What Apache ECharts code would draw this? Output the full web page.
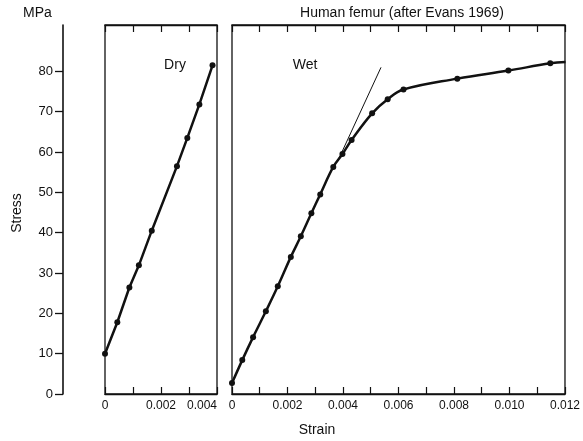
<!DOCTYPE html>
<html>
<head>
<meta charset="utf-8">
<script src="https://cdn.jsdelivr.net/npm/echarts@6/dist/echarts.min.js"></script>
<style>
html,body{margin:0;padding:0;background:#fff;}
#chart{width:583px;height:441px;}
</style>
</head>
<body>
<div id="chart"></div>
<script>
// Data (strain, stress in MPa)
var dryStrain = [0, 0.00044, 0.00087, 0.00121, 0.00167, 0.00257, 0.00294, 0.00337, 0.00384];
var dryStress = [10, 17.8, 26.4, 31.9, 40.5, 56.5, 63.5, 71.8, 81.5];

var wetStrain = [0, 0.00037, 0.00076, 0.00122, 0.00165, 0.00212, 0.00248, 0.00286, 0.00318, 0.00365, 0.00398, 0.00431, 0.00505, 0.00561, 0.00618, 0.00812, 0.00996, 0.01147, 0.01202];
var wetStress = [2.7, 8.4, 14.1, 20.5, 26.7, 34.0, 39.1, 44.8, 49.5, 56.3, 59.5, 63.0, 69.6, 73.1, 75.5, 78.2, 80.2, 82.0, 82.3];

var tangentStrain = [0.0038, 0.00537];
var tangentStress = [57.6, 81.0];

var stressTicks = [0, 10, 20, 30, 40, 50, 60, 70, 80];

function pairs(xs, ys) { return xs.map(function (x, i) { return [x, ys[i]]; }); }

var FONT = '"Liberation Sans", Arial, Helvetica, sans-serif';
var INK = '#111';
var YMAX = 91.5;

function xLabel(v) {
  var k = Math.round(v * 1000);
  if (k % 2 !== 0) return '';
  return k === 0 ? '0' : v.toFixed(3);
}

function bottomX(gi, max, alignMax) {
  return {
    type: 'value', gridIndex: gi, min: 0, max: max, interval: 0.001, position: 'bottom',
    axisLine: { show: true, onZero: false, lineStyle: { color: INK, width: 1.3 } },
    axisTick: { show: true, inside: true, length: 7, lineStyle: { color: INK, width: 1.2 } },
    axisLabel: { show: true, formatter: xLabel, color: INK, fontFamily: FONT, fontSize: 12, margin: 6,
                 hideOverlap: false, showMaxLabel: true, showMinLabel: true, alignMaxLabel: alignMax },
    splitLine: { show: false }
  };
}
function topX(gi, max) {
  return {
    type: 'value', gridIndex: gi, min: 0, max: max, interval: 0.001, position: 'top',
    axisLine: { show: true, onZero: false, lineStyle: { color: INK, width: 1.3 } },
    axisTick: { show: true, inside: true, length: 7, lineStyle: { color: INK, width: 1.2 } },
    axisLabel: { show: false }, splitLine: { show: false }
  };
}

var chart = echarts.init(document.getElementById('chart'), null, { renderer: 'canvas' });
chart.setOption({
  animation: false,
  backgroundColor: '#fff',
  grid: [
    { left: 105, width: 112, top: 25, bottom: 47, show: true, borderColor: INK, borderWidth: 1.3, containLabel: false },
    { left: 232, width: 338, top: 25, bottom: 47, show: true, borderColor: INK, borderWidth: 1.3, containLabel: false }
  ],
  xAxis: [
    bottomX(0, 0.004, 'right'), topX(0, 0.004),
    bottomX(1, 0.012, 'center'), topX(1, 0.012)
  ],
  yAxis: [
    { type: 'value', gridIndex: 0, min: 0, max: YMAX, position: 'left', offset: 42,
      axisLine: { show: true, onZero: false, lineStyle: { color: INK, width: 1.6 } },
      axisTick: { show: true, inside: false, length: 8, customValues: stressTicks, lineStyle: { color: INK, width: 1.3 } },
      axisLabel: { show: true, customValues: stressTicks, color: INK, fontFamily: FONT, fontSize: 13, margin: 10 },
      splitLine: { show: false } },
    { type: 'value', gridIndex: 1, min: 0, max: YMAX, show: false, splitLine: { show: false } }
  ],
  series: [
    { type: 'line', xAxisIndex: 0, yAxisIndex: 0, data: pairs(dryStrain, dryStress),
      symbol: 'circle', symbolSize: 6, showAllSymbol: true,
      lineStyle: { color: INK, width: 2.5 }, itemStyle: { color: INK } },
    { type: 'line', xAxisIndex: 2, yAxisIndex: 1, data: pairs(tangentStrain, tangentStress),
      symbol: 'none', lineStyle: { color: INK, width: 1 } },
    { type: 'line', xAxisIndex: 2, yAxisIndex: 1, data: pairs(wetStrain, wetStress),
      symbol: 'circle', symbolSize: 6, showAllSymbol: true, smooth: 0.4,
      lineStyle: { color: INK, width: 2.5 }, itemStyle: { color: INK } }
  ],
  graphic: [
    { type: 'text', x: 23, y: 13, style: { text: 'MPa', font: '14px ' + FONT, fill: INK, textAlign: 'left', textVerticalAlign: 'middle' } },
    { type: 'text', x: 402, y: 13, style: { text: 'Human femur (after Evans 1969)', font: '14px ' + FONT, fill: INK, textAlign: 'center', textVerticalAlign: 'middle' } },
    { type: 'text', x: 175, y: 65, style: { text: 'Dry', font: '14px ' + FONT, fill: INK, textAlign: 'center', textVerticalAlign: 'middle' } },
    { type: 'text', x: 305, y: 65, style: { text: 'Wet', font: '14px ' + FONT, fill: INK, textAlign: 'center', textVerticalAlign: 'middle' } },
    { type: 'text', x: 317, y: 430, style: { text: 'Strain', font: '14px ' + FONT, fill: INK, textAlign: 'center', textVerticalAlign: 'middle' } },
    { type: 'text', x: 17, y: 213, rotation: Math.PI / 2, style: { text: 'Stress', font: '14px ' + FONT, fill: INK, textAlign: 'center', textVerticalAlign: 'middle' } }
  ]
});
</script>
</body>
</html>
